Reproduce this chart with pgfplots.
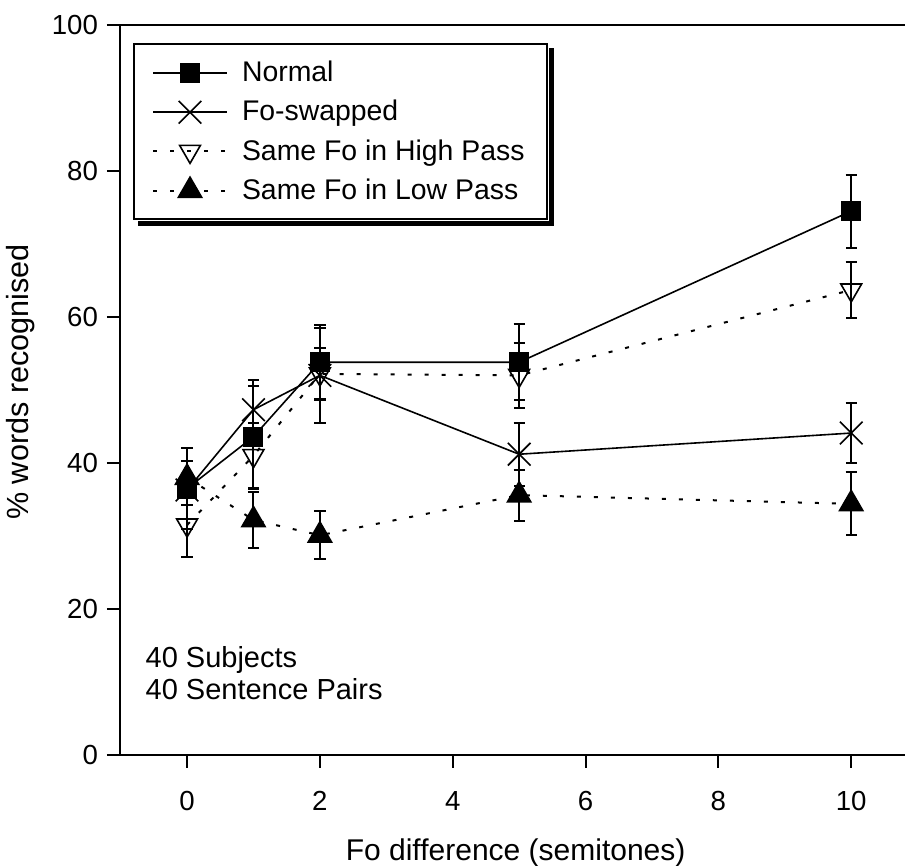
\documentclass[border=0pt]{standalone}
\usepackage{fontspec}
\setmainfont{Liberation Sans}
\usepackage{pgfplots}
\pgfplotsset{compat=1.18}

% values: x, mean, error
\pgfplotstableread{
x  y     e
0  36.5  5.5
1  43.6  7.0
2  53.8  5.1
5  53.8  5.2
10 74.5  5.0
}\normal
\pgfplotstableread{
x  y     e
0  36.3  2.0
1  47.3  4.1
2  52.0  6.5
5  41.2  4.3
10 44.1  4.1
}\swapped
\pgfplotstableread{
x  y     e
0  31.5  4.4
1  41.0  4.5
2  52.2  3.6
5  52.0  4.5
10 63.7  3.8
}\highpass
\pgfplotstableread{
x  y     e
0  38.0  2.3
1  32.2  3.8
2  30.1  3.3
5  35.6  3.5
10 34.4  4.3
}\lowpass

\begin{document}
\begin{tikzpicture}
\begin{axis}[
    name=ax,
    scale only axis,
    width=392.5pt, height=365pt,
    xmin=-1.01, xmax=10.81,
    ymin=0, ymax=100,
    axis x line=box, axis y line=left,
    every non boxed y axis/.append style={y axis line style=-},
    every outer y axis line/.append style={-},
    axis line style={line width=1pt, -},
    y axis line style={-},
    xtick={0,2,4,6,8,10}, ytick={0,20,40,60,80,100},
    xtick pos=bottom, ytick pos=left,
    tick align=outside, major tick length=6.5pt,
    tick style={line width=1pt, black},
    /pgf/number format/assume math mode=true,
    ticklabel style={font=\fontsize{13.8}{16}\selectfont},
    xticklabel style={yshift=-8pt},
    yticklabel style={xshift=-1pt},
    xlabel={Fo difference (semitones)},
    ylabel={\% words recognised},
    every axis x label/.style={at={(axis description cs:0.504,0)}, anchor=center, yshift=-49pt, font=\fontsize{15}{18}\selectfont},
    every axis y label/.style={at={(axis description cs:-0.127,0.511)}, anchor=center, rotate=90, font=\fontsize{15.3}{18}\selectfont},
    legend style={at={(axis description cs:0.0166,0.975)}, anchor=north west,
        name=leg,
        draw=black, line width=1pt, fill=white,
        inner xsep=9pt, inner ysep=6.5pt, row sep=3.8pt, column sep=5pt,
        font=\fontsize{14.2}{17}\selectfont},
    legend cell align=left,
    legend image code/.code={\draw[mark repeat=2,mark phase=2] plot coordinates {(0pt,0pt) (18.5pt,0pt) (37pt,0pt)};},
    error bars/y dir=both, error bars/y explicit,
    error bars/error bar style={line width=1pt, solid, black},
    error bars/error mark options={rotate=90, mark size=2.8pt, line width=1pt, solid, black},
]
\addplot[black, line width=0.8pt, mark=square*, mark size=4.6pt]
    table[x=x, y=y, y error=e] {\normal};
\addlegendentry{Normal}
\addplot[black, line width=0.8pt, mark=x, mark size=8pt, mark options={line width=0.8pt}]
    table[x=x, y=y, y error=e] {\swapped};
\addlegendentry{Fo-swapped}
\addplot[black, line width=1pt, dash pattern=on 2pt off 6.5pt, mark=triangle, mark size=6pt, mark options={solid, rotate=180, line width=0.8pt}]
    table[x=x, y=y, y error=e] {\highpass};
\addlegendentry{Same Fo in High Pass}
\addplot[black, line width=1pt, dash pattern=on 2pt off 6.5pt, mark=triangle*, mark size=6.5pt, mark options={solid}]
    table[x=x, y=y, y error=e] {\lowpass};
\addlegendentry{Same Fo in Low Pass}
\node[anchor=west, font=\fontsize{14.5}{17}\selectfont, inner sep=0pt] at (axis cs:-0.63,13) {40 Subjects};
\node[anchor=west, font=\fontsize{14.5}{17}\selectfont, inner sep=0pt] at (axis cs:-0.63,9) {40 Sentence Pairs};
\end{axis}
% drop shadow of the legend box
\fill[black] ([shift={(0.5pt,-2.5pt)}]leg.north east) rectangle ([shift={(3pt,-3pt)}]leg.south east);
\fill[black] ([shift={(2.5pt,-0.5pt)}]leg.south west) rectangle ([shift={(3pt,-3pt)}]leg.south east);
\pgfresetboundingbox
\path ([shift={(-60pt,-55.5pt)}]ax.south west) rectangle ([shift={(0pt,12.5pt)}]ax.north east);
\end{tikzpicture}
\end{document}
